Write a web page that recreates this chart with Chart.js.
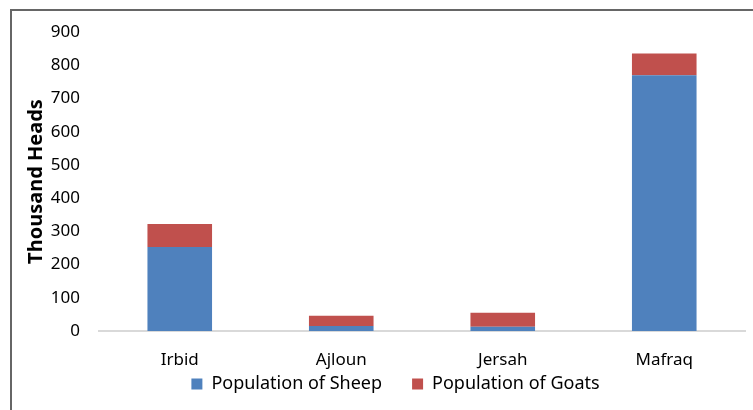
<!DOCTYPE html>
<html>
<head>
<meta charset="utf-8">
<script src="https://cdn.jsdelivr.net/npm/chart.js@4/dist/chart.umd.min.js"></script>
<style>
  html, body { margin: 0; padding: 0; background: #fff; }
  #wrap { position: relative; width: 753px; height: 410px; }
  #frame {
    position: absolute; left: 10px; top: 9px; right: 0; bottom: -4px;
    border-top: 2px solid #666; border-left: 2px solid #666;
  }
  #theChart { position: absolute; left: 0; top: 0; }
</style>
</head>
<body>
<div id="wrap">
  <div id="frame"></div>
  <canvas id="theChart" width="753" height="410"></canvas>
</div>
<script>
const governorates = ["Irbid", "Ajloun", "Jersah", "Mafraq"];
const sheep = [253, 15, 13, 770];
const goats = [69, 31, 42, 65];
const yTicks = [0, 100, 200, 300, 400, 500, 600, 700, 800, 900];

const fontFamily = "'Noto Sans', 'Open Sans', sans-serif";
const chartArea = document.querySelector("#theChart");

// legend padding also sets the gap between items, so pull the legend
// back up after layout to sit close under the category labels
const legendShift = {
  id: "legendShift",
  afterLayout(chart) {
    chart.legend.top -= 26;
    chart.legend.bottom -= 26;
    chart.legend.left += 23;
    chart.legend.right += 23;
  },
};

const data = {
  labels: governorates,
  datasets: [
    {
      label: "Population of Sheep",
      data: sheep,
      backgroundColor: "#4F81BD",
      barPercentage: 0.4,
      categoryPercentage: 1,
    },
    {
      label: "Population of Goats",
      data: goats,
      backgroundColor: "#C0504D",
      barPercentage: 0.4,
      categoryPercentage: 1,
    },
  ],
};

const config = {
  type: "bar",
  data,
  plugins: [legendShift],
  options: {
    responsive: false,
    animation: false,
    layout: {
      padding: { top: 32, right: 8, bottom: -19, left: 0 },
    },
    plugins: {
      tooltip: { enabled: false },
      legend: {
        position: "bottom",
        labels: {
          color: "#000",
          font: { family: fontFamily, size: 18 },
          boxWidth: 11,
          boxHeight: 11,
          padding: 30,
        },
      },
    },
    scales: {
      x: {
        stacked: true,
        grid: { display: false, drawTicks: false },
        border: { color: "#d9d9d9", width: 2 },
        afterFit: (scale) => {
          scale.height = 40;
        },
        ticks: {
          color: "#000",
          font: { family: fontFamily, size: 17 },
          padding: 19,
        },
      },
      y: {
        stacked: true,
        min: 0,
        max: 900,
        afterBuildTicks: (scale) => {
          scale.ticks = yTicks.map((v) => ({ value: v }));
        },
        afterFit: (scale) => {
          scale.width = 99;
        },
        grid: { display: false, drawTicks: false },
        border: { display: false },
        ticks: {
          color: "#000",
          font: { family: fontFamily, size: 17 },
          padding: 19,
        },
        title: {
          display: true,
          text: "Thousand Heads",
          color: "#000",
          font: { family: fontFamily, size: 20, weight: "bold" },
          padding: { top: 24, bottom: 0 },
        },
      },
    },
  },
};

const myChart = new Chart(chartArea, config);
</script>
</body>
</html>
